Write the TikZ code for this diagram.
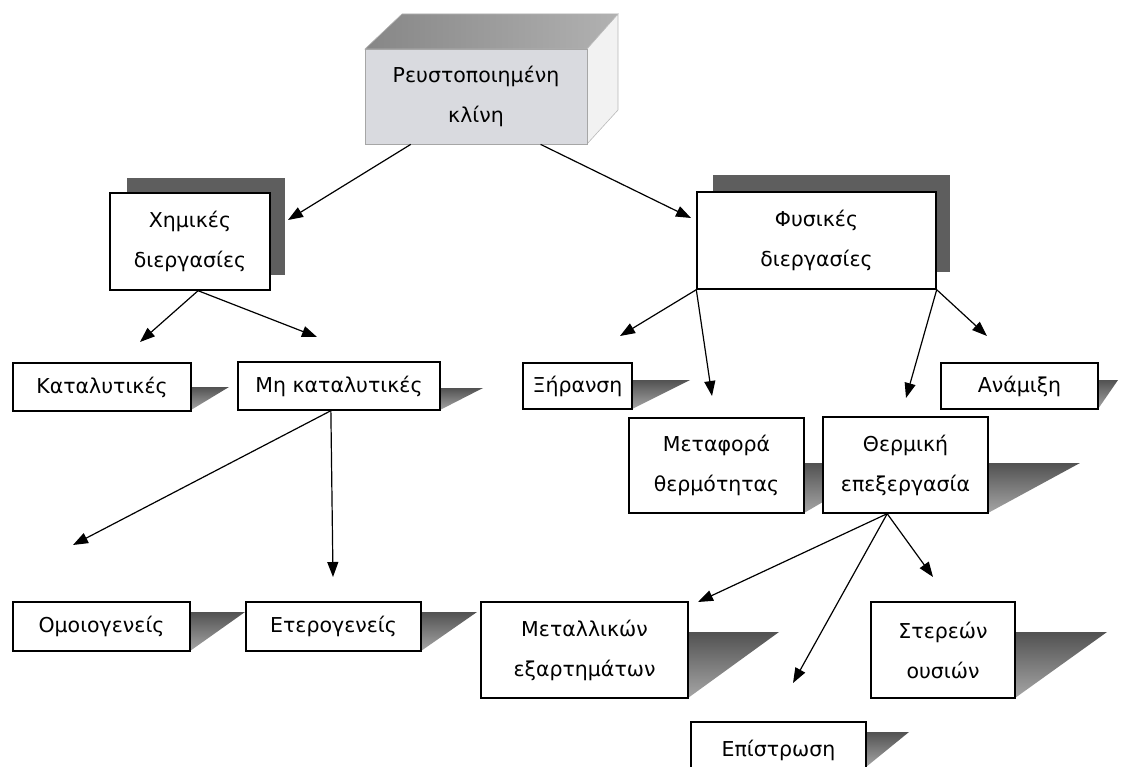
\documentclass[tikz,border=0pt]{standalone}
\usepackage{fontspec}
\setmainfont{DejaVu Sans}
\usetikzlibrary{arrows.meta,calc}
\definecolor{bedfront}{HTML}{D9DADF}
\definecolor{bedtop}{HTML}{9E9E9E}
\definecolor{bedside}{HTML}{F2F2F2}
\definecolor{shadowdark}{HTML}{5E5E5E}
\begin{document}
\begin{tikzpicture}[x=1pt,y=-1pt,
  box/.style={draw=black, line width=1.4pt, fill=white, inner sep=0pt, align=center,
    font=\fontsize{20.5}{40}\selectfont},
  arr/.style={line width=1.2pt, -{Triangle[length=15pt,width=11pt]}},
  wedge/.style={top color=black!68, bottom color=black!35, draw=none},
  backshadow/.style={fill=shadowdark, draw=none}]
\useasboundingbox (0,0) rectangle (1129,767);
\clip (0,0) rectangle (1129,767);

% ---- top 3D box
\shade[left color=bedtop!85!black, right color=bedtop!80, draw=gray!60, line width=0.6pt]
  (365,49) -- (402,14) -- (618,14) -- (587,49) -- cycle;
\fill[bedside, draw=gray!55, line width=0.6pt] (587,49) -- (618,14) -- (618,110) -- (587,144) -- cycle;
\node[box, draw=gray!70, line width=0.8pt, fill=bedfront, minimum width=222pt, minimum height=95pt]
  (bed) at (476,96.5) {Ρευστοποιημένη\\κλίνη};

% ---- back shadows of the second-level boxes
\fill[backshadow] (127,178) rectangle (285,275);
\fill[backshadow] (713,175) rectangle (950,272);

% ---- wedge shadows
\shade[wedge] (191,387) -- (229,387) -- (191,410) -- cycle;
\shade[wedge] (440,388) -- (483,388) -- (440,410) -- cycle;
\shade[wedge] (632,380) -- (690,380) -- (632,409) -- cycle;
\shade[wedge] (1098,380) -- (1118,380) -- (1098,409) -- cycle;
\shade[wedge] (804,463) -- (890,463) -- (804,513) -- cycle;
\shade[wedge] (988,463) -- (1080,463) -- (988,513) -- cycle;
\shade[wedge] (190,612) -- (245,612) -- (190,651) -- cycle;
\shade[wedge] (421,612) -- (477,612) -- (421,651) -- cycle;
\shade[wedge] (688,632) -- (779,632) -- (688,698) -- cycle;
\shade[wedge] (1015,632) -- (1107,632) -- (1015,698) -- cycle;
\shade[wedge] (866,732) -- (909,732) -- (866,767) -- cycle;

% ---- boxes
\node[box, minimum width=160pt, minimum height=97pt] (chem) at (190,241.5) {Χημικές\\διεργασίες};
\node[box, minimum width=239pt, minimum height=97pt] (fys) at (816.5,240.5) {Φυσικές\\διεργασίες};
\node[box, minimum width=178pt, minimum height=48pt] (kat) at (102,387) {Καταλυτικές};
\node[box, minimum width=202pt, minimum height=48pt] (mhk) at (339,386) {Μη καταλυτικές};
\node[box, minimum width=109pt, minimum height=46pt] (xir) at (577.5,386) {Ξήρανση};
\node[box, minimum width=157pt, minimum height=46pt] (anam) at (1019.5,386) {Ανάμιξη};
\node[box, minimum width=175pt, minimum height=95pt] (metaf) at (716.5,465.5) {Μεταφορά\\θερμότητας};
\node[box, minimum width=165pt, minimum height=96pt] (therm) at (905.5,465) {Θερμική\\επεξεργασία};
\node[box, minimum width=177pt, minimum height=49pt] (omoi) at (101.5,626.5) {Ομοιογενείς};
\node[box, minimum width=175pt, minimum height=49pt] (eter) at (333.5,626.5) {Ετερογενείς};
\node[box, minimum width=207pt, minimum height=96pt] (metal) at (584.5,650) {Μεταλλικών\\εξαρτημάτων};
\node[box, minimum width=144pt, minimum height=96pt] (ster) at (943,650) {Στερεών\\ουσιών};
\node[box, minimum width=175pt, minimum height=56pt] (epis) at (778.5,750) {Επίστρωση};

% ---- free arrow ends
\coordinate (tChem) at (288,220);
\coordinate (tFys) at (691,218);
\coordinate (tKat) at (140,342);
\coordinate (tMhk) at (317,337);
\coordinate (tOmoi) at (73,545);
\coordinate (tEter) at (333,577);
\coordinate (tXir) at (620,336);
\coordinate (tMetaf) at (712,396);
\coordinate (tTherm) at (906,398);
\coordinate (tAnam) at (987,336);
\coordinate (tMetal) at (698,602);
\coordinate (tEpis) at (793,683);
\coordinate (tSter) at (933,577);

% ---- connectors
\draw[arr] ($(bed.south west)!0.207!(bed.south east)$) -- (tChem);
\draw[arr] ($(bed.south west)!0.79!(bed.south east)$) -- (tFys);
\draw[arr] ($(chem.south west)!0.55!(chem.south east)$) -- (tKat);
\draw[arr] ($(chem.south west)!0.55!(chem.south east)$) -- (tMhk);
\draw[arr] ($(mhk.south west)!0.46!(mhk.south east)$) -- (tOmoi);
\draw[arr] ($(mhk.south west)!0.46!(mhk.south east)$) -- (tEter);
\draw[arr] (fys.south west) -- (tXir);
\draw[arr] (fys.south west) -- (tMetaf);
\draw[arr] (fys.south east) -- (tTherm);
\draw[arr] (fys.south east) -- (tAnam);
\draw[arr] ($(therm.south west)!0.39!(therm.south east)$) -- (tMetal);
\draw[arr] ($(therm.south west)!0.39!(therm.south east)$) -- (tEpis);
\draw[arr] ($(therm.south west)!0.39!(therm.south east)$) -- (tSter);
\end{tikzpicture}
\end{document}
